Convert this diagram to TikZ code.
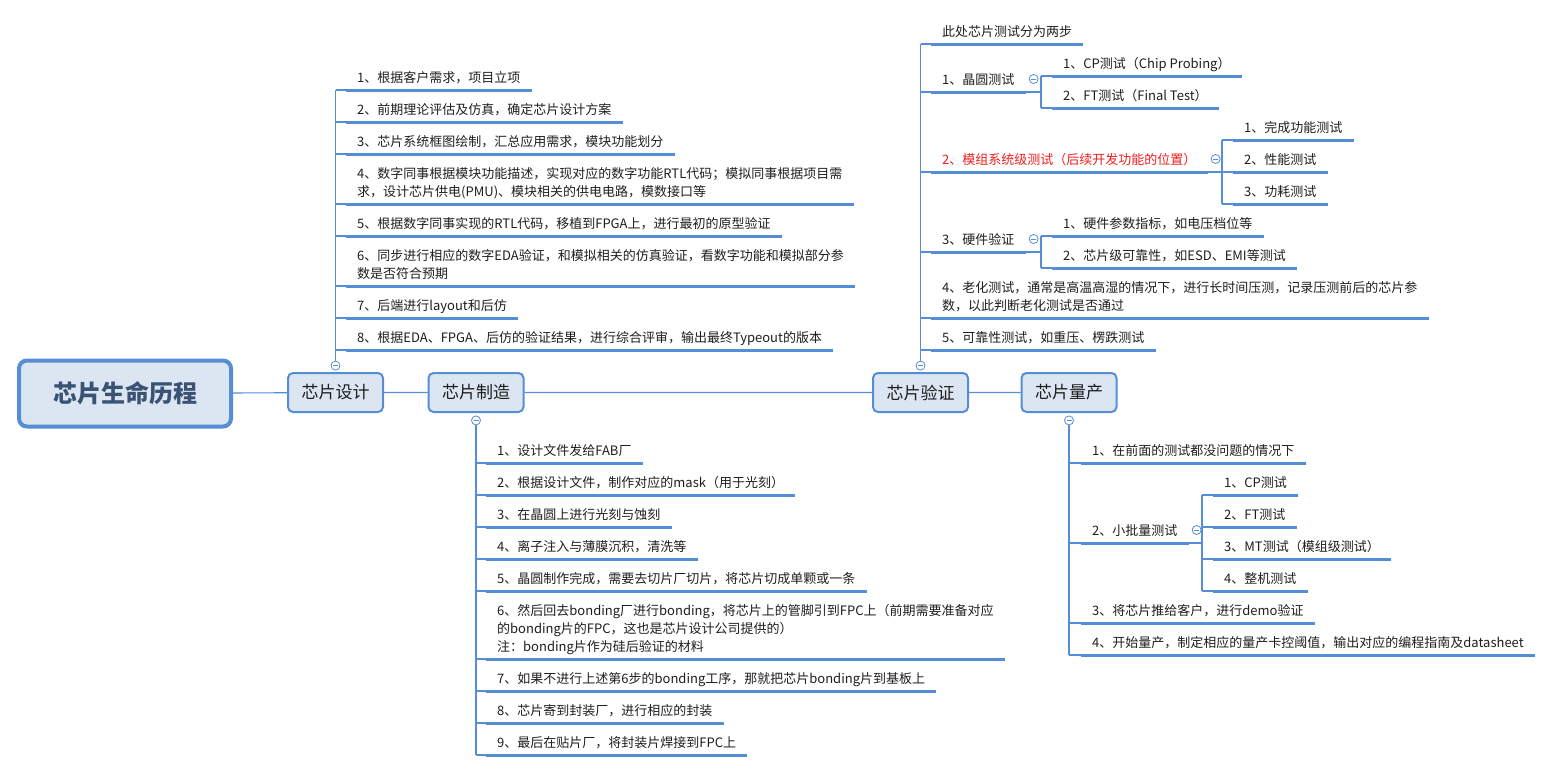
\documentclass[tikz,border=0pt]{standalone}
\usepackage{fontspec}
\setmainfont{Noto Sans CJK SC}
\usetikzlibrary{positioning}
\definecolor{linec}{RGB}{85,142,213}
\definecolor{boxfill}{RGB}{220,230,242}
\definecolor{rootink}{RGB}{58,83,117}
\definecolor{ink}{RGB}{30,30,30}
\definecolor{redink}{RGB}{240,30,30}
\begin{document}
\begin{tikzpicture}[x=1pt,y=-1pt,
    root/.style={draw=linec,fill=boxfill,line width=4pt,rounded corners=8pt,minimum width=212pt,minimum height=66pt,text=rootink,font=\fontsize{24}{28}\selectfont\bfseries},
    topic/.style={draw=linec,fill=boxfill,line width=2pt,rounded corners=5pt,minimum width=95pt,minimum height=39pt,text=ink,font=\fontsize{17}{20}\selectfont},
    item/.style={anchor=south west,inner xsep=11pt,inner ysep=3pt,text depth=4pt,align=left,text=ink,font=\fontsize{13}{18}\selectfont},
    uline/.style={draw=linec,line width=3pt},
    conn/.style={draw=linec,line width=1.1pt},
    fold/.style={circle,draw=linec,fill=white,line width=0.8pt,minimum size=9pt,inner sep=0pt,
        path picture={\draw[linec,line width=0.8pt] ([xshift=-2.5pt]path picture bounding box.center) -- ([xshift=2.5pt]path picture bounding box.center);}}]
    \useasboundingbox (0,0) rectangle (1553,772);
    % main line
    \node[root] (life) at (125,393.5) {芯片生命历程};
    \node[topic] (design) at (335.5,392.5) {芯片设计};
    \node[topic] (make) at (476,392.5) {芯片制造};
    \node[topic] (verify) at (920.5,392.5) {芯片验证};
    \node[topic] (mass) at (1069,392.5) {芯片量产};
    \draw[conn] (life) -- (design) -- (make) -- (verify) -- (mass);
    \node[fold,above=1.5pt of design] (dfold) {};
    \node[fold,below=2.5pt of make] (mfold) {};
    \node[fold,above=1.5pt of verify] (vfold) {};
    \node[fold,below=2.5pt of mass] (qfold) {};

    % 芯片设计
    \node[item] (d1) at (346,90) {1、根据客户需求，项目立项};
    \node[item] (d2) at (346,122) {2、前期理论评估及仿真，确定芯片设计方案};
    \node[item] (d3) at (346,154) {3、芯片系统框图绘制，汇总应用需求，模块功能划分};
    \node[item] (d4) at (346,204) {4、数字同事根据模块功能描述，实现对应的数字功能RTL代码；模拟同事根据项目需\\求，设计芯片供电(PMU)、模块相关的供电电路，模数接口等};
    \node[item] (d5) at (346,236) {5、根据数字同事实现的RTL代码，移植到FPGA上，进行最初的原型验证};
    \node[item] (d6) at (346,286) {6、同步进行相应的数字EDA验证，和模拟相关的仿真验证，看数字功能和模拟部分参\\数是否符合预期};
    \node[item] (d7) at (346,318) {7、后端进行layout和后仿};
    \node[item] (d8) at (346,350) {8、根据EDA、FPGA、后仿的验证结果，进行综合评审，输出最终Typeout的版本};
    \draw[conn] (dfold.north) -- (dfold.north |- d1.south west);
    \foreach \i in {1,...,8} {
        \draw[conn] (dfold.north |- d\i.south west) -- (d\i.south west);
        \draw[uline] (d\i.south west) -- (d\i.south east);
    }

    % 芯片制造
    \node[item] (m1) at (486,463) {1、设计文件发给FAB厂};
    \node[item] (m2) at (486,495) {2、根据设计文件，制作对应的mask（用于光刻）};
    \node[item] (m3) at (486,527) {3、在晶圆上进行光刻与蚀刻};
    \node[item] (m4) at (486,559) {4、离子注入与薄膜沉积，清洗等};
    \node[item] (m5) at (486,591) {5、晶圆制作完成，需要去切片厂切片，将芯片切成单颗或一条};
    \node[item] (m6) at (486,659) {6、然后回去bonding厂进行bonding，将芯片上的管脚引到FPC上（前期需要准备对应\\的bonding片的FPC，这也是芯片设计公司提供的）\\注：bonding片作为硅后验证的材料};
    \node[item] (m7) at (486,691) {7、如果不进行上述第6步的bonding工序，那就把芯片bonding片到基板上};
    \node[item] (m8) at (486,723) {8、芯片寄到封装厂，进行相应的封装};
    \node[item] (m9) at (486,755) {9、最后在贴片厂，将封装片焊接到FPC上};
    \draw[conn] (mfold.south) -- (mfold.south |- m9.south west);
    \foreach \i in {1,...,9} {
        \draw[conn] (mfold.south |- m\i.south west) -- (m\i.south west);
        \draw[uline] (m\i.south west) -- (m\i.south east);
    }

    % 芯片验证
    \node[item] (v1) at (931,44) {此处芯片测试分为两步};
    \node[item] (v2) at (931,92) {1、晶圆测试};
    \node[item] (v2a) at (1052,76) {1、CP测试（Chip Probing）};
    \node[item] (v2b) at (1052,108) {2、FT测试（Final Test）};
    \node[item,text=redink] (v3) at (931,172) {2、模组系统级测试（后续开发功能的位置）};
    \node[item] (v3a) at (1233,140) {1、完成功能测试};
    \node[item] (v3b) at (1233,172) {2、性能测试};
    \node[item] (v3c) at (1233,204) {3、功耗测试};
    \node[item] (v4) at (931,252) {3、硬件验证};
    \node[item] (v4a) at (1052,236) {1、硬件参数指标，如电压档位等};
    \node[item] (v4b) at (1052,268) {2、芯片级可靠性，如ESD、EMI等测试};
    \node[item] (v5) at (931,318) {4、老化测试，通常是高温高湿的情况下，进行长时间压测，记录压测前后的芯片参\\数，以此判断老化测试是否通过};
    \node[item] (v6) at (931,350) {5、可靠性测试，如重压、楞跌测试};
    \draw[conn] (vfold.north) -- (vfold.north |- v1.south west);
    \foreach \n in {v1,v2,v3,v4,v5,v6,v2a,v2b,v3a,v3b,v3c,v4a,v4b}
        \draw[uline] (\n.south west) -- (\n.south east);
    \foreach \n in {v1,v2,v3,v4,v5,v6}
        \draw[conn] (vfold.north |- \n.south west) -- (\n.south west);
    % sub branches
    \coordinate (v2j) at (1041,92);
    \coordinate (v3j) at (1222,172);
    \coordinate (v4j) at (1041,252);
    \node[fold] (v2fold) at ([xshift=8pt,yshift=13pt]v2.south east) {};
    \node[fold] (v3fold) at ([xshift=8pt,yshift=13pt]v3.south east) {};
    \node[fold] (v4fold) at ([xshift=8pt,yshift=13pt]v4.south east) {};
    \draw[conn] (v2.south east) -- (v2j);
    \draw[conn] (v3.south east) -- (v3j);
    \draw[conn] (v4.south east) -- (v4j);
    \draw[conn] (v2j |- v2a.south west) -- (v2j |- v2b.south west);
    \draw[conn] (v3j |- v3a.south west) -- (v3j |- v3c.south west);
    \draw[conn] (v4j |- v4a.south west) -- (v4j |- v4b.south west);
    \foreach \n in {v2a,v2b} \draw[conn] (v2j |- \n.south west) -- (\n.south west);
    \foreach \n in {v3a,v3b,v3c} \draw[conn] (v3j |- \n.south west) -- (\n.south west);
    \foreach \n in {v4a,v4b} \draw[conn] (v4j |- \n.south west) -- (\n.south west);

    % 芯片量产
    \node[item] (q1) at (1081,463) {1、在前面的测试都没问题的情况下};
    \node[item] (q2) at (1081,543) {2、小批量测试};
    \node[item] (q2a) at (1213,495) {1、CP测试};
    \node[item] (q2b) at (1213,527) {2、FT测试};
    \node[item] (q2c) at (1213,559) {3、MT测试（模组级测试）};
    \node[item] (q2d) at (1213,591) {4、整机测试};
    \node[item] (q3) at (1081,623) {3、将芯片推给客户，进行demo验证};
    \node[item] (q4) at (1081,655) {4、开始量产，制定相应的量产卡控阈值，输出对应的编程指南及datasheet};
    \draw[conn] (qfold.south) -- (qfold.south |- q4.south west);
    \foreach \n in {q1,q2,q3,q4}
        \draw[conn] (qfold.south |- \n.south west) -- (\n.south west);
    \coordinate (q2j) at (1202,543);
    \node[fold] (q2fold) at ([xshift=8pt,yshift=13pt]q2.south east) {};
    \draw[conn] (q2.south east) -- (q2j);
    \draw[conn] (q2j |- q2a.south west) -- (q2j |- q2d.south west);
    \foreach \n in {q2a,q2b,q2c,q2d} \draw[conn] (q2j |- \n.south west) -- (\n.south west);
    \foreach \n in {q1,q2,q3,q4,q2a,q2b,q2c,q2d}
        \draw[uline] (\n.south west) -- (\n.south east);
\end{tikzpicture}
\end{document}
